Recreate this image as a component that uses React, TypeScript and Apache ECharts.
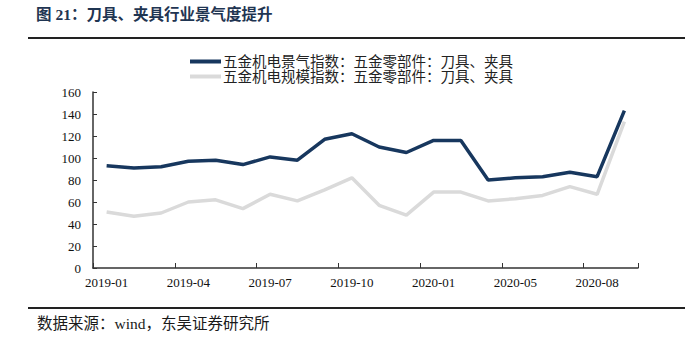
import React, { useEffect, useRef } from "react";
import * as echarts from "echarts";

const categories = [
  "2019-01", "2019-02", "2019-03", "2019-04", "2019-05", "2019-06", "2019-07", "2019-08",
  "2019-09", "2019-10", "2019-11", "2019-12", "2020-01", "2020-03", "2020-04", "2020-05",
  "2020-06", "2020-07", "2020-08", "2020-09",
];
const prosperityIndex = [93, 91, 92, 97, 98, 94, 101, 98, 117, 122, 110, 105, 116, 116, 80, 82, 83, 87, 83, 143];
const scaleIndex = [51, 47, 50, 60, 62, 54, 67, 61, 71, 82, 57, 48, 69, 69, 61, 63, 66, 74, 67, 133];
const seriesNames = ["五金机电景气指数：五金零部件：刀具、夹具", "五金机电规模指数：五金零部件：刀具、夹具"];
const titleText = "图 21：刀具、夹具行业景气度提升";
const sourceText = "数据来源：wind，东吴证券研究所";

const FONT = '"Liberation Serif", "Noto Sans CJK SC", serif';

export default function App() {
  const ref = useRef<HTMLDivElement>(null);
  useEffect(() => {
    const chart = echarts.init(ref.current!, null, { renderer: "svg" });
    chart.setOption({
      animation: false,
      backgroundColor: "#ffffff",
      textStyle: { fontFamily: FONT },
      graphic: [
        {
          type: "text",
          left: 36,
          top: 7,
          style: { text: titleText, font: 'bold 15.5px "Liberation Serif", "Noto Sans CJK SC", serif', fill: "#1f3552" },
        },
        {
          type: "line",
          shape: { x1: 28, y1: 38, x2: 685, y2: 38 },
          style: { stroke: "#222", lineWidth: 2 },
        },
        {
          type: "line",
          shape: { x1: 28, y1: 308, x2: 685, y2: 308 },
          style: { stroke: "#222", lineWidth: 2 },
        },
        {
          type: "text",
          left: 37,
          top: 316,
          style: { text: sourceText, font: '15.5px "Liberation Serif", "Noto Sans CJK SC", serif', fill: "#1a1a1a" },
        },
      ],
      legend: {
        orient: "vertical",
        left: 185,
        top: 49,
        icon: "rect",
        itemWidth: 31,
        itemHeight: 4,
        itemGap: 0,
        data: seriesNames,
        textStyle: { fontSize: 14.5, lineHeight: 15, color: "#222", fontFamily: FONT, padding: [0, 0, 0, -3] },
      },
      grid: { left: 93, right: 60, top: 92, bottom: 79 },
      xAxis: {
        type: "category",
        data: categories,
        boundaryGap: true,
        axisLine: { lineStyle: { color: "#333", width: 1.5 } },
        axisTick: { show: true, inside: true, length: 5, interval: 2, lineStyle: { color: "#333" } },
        axisLabel: { interval: 2, color: "#111", fontSize: 13, margin: 8, fontFamily: FONT },
        splitLine: { show: false },
      },
      yAxis: {
        type: "value",
        min: 0,
        max: 160,
        interval: 20,
        axisLine: { show: true, lineStyle: { color: "#333", width: 1.5 } },
        axisTick: { show: true, inside: true, length: 4, lineStyle: { color: "#333" } },
        axisLabel: { color: "#111", fontSize: 13, margin: 12, fontFamily: FONT },
        splitLine: { show: false },
      },
      series: [
        {
          name: seriesNames[0],
          type: "line",
          data: prosperityIndex,
          symbol: "none",
          lineStyle: { color: "#17375e", width: 3.5 },
          itemStyle: { color: "#17375e" },
          z: 3,
        },
        {
          name: seriesNames[1],
          type: "line",
          data: scaleIndex,
          symbol: "none",
          lineStyle: { color: "#dadada", width: 3.5 },
          itemStyle: { color: "#dadada" },
          z: 2,
        },
      ],
    });
    return () => chart.dispose();
  }, []);
  return <div ref={ref} style={{ width: 698, height: 347, position: "absolute", left: 0, top: 0 }} />;
}
